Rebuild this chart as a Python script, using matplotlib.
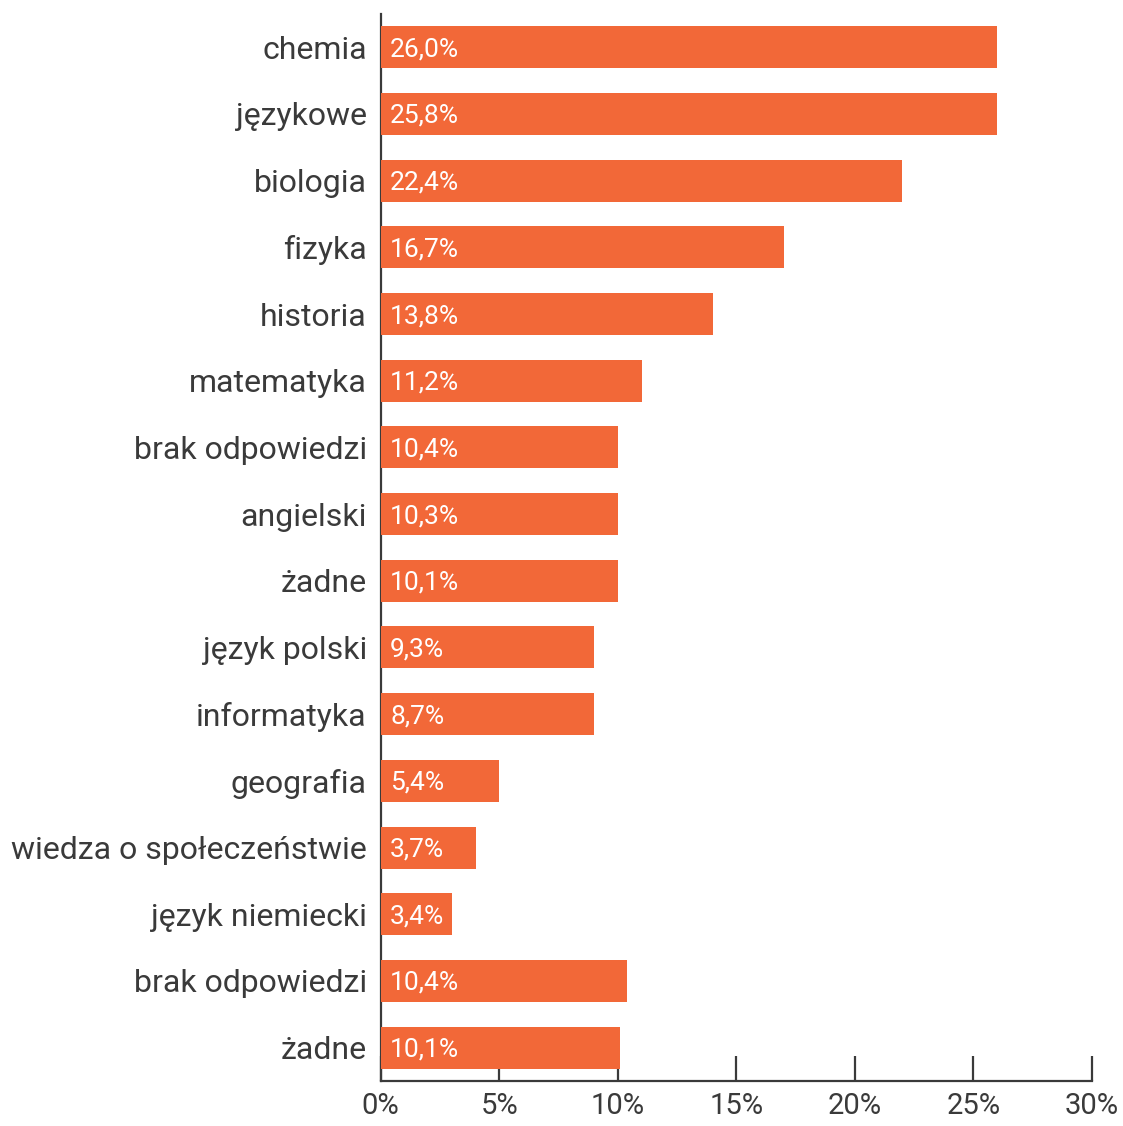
import matplotlib.pyplot as plt

# categories top -> bottom
categories = ['chemia', 'językowe', 'biologia', 'fizyka', 'historia', 'matematyka',
              'brak odpowiedzi', 'angielski', 'żadne', 'język polski', 'informatyka',
              'geografia', 'wiedza o społeczeństwie', 'język niemiecki',
              'brak odpowiedzi', 'żadne']
# printed labels
value_labels = ['26,0%', '25,8%', '22,4%', '16,7%', '13,8%', '11,2%', '10,4%', '10,3%',
                '10,1%', '9,3%', '8,7%', '5,4%', '3,7%', '3,4%', '10,4%', '10,1%']
# bar lengths as drawn in the picture (%)
bar_lengths = [26, 26, 22, 17, 14, 11, 10, 10, 10, 9, 9, 5, 4, 3, 10.4, 10.1]
x_ticks = [0, 5, 10, 15, 20, 25, 30]

bar_color = '#F26838'
text_color = '#3a3a3a'
plt.rcParams['font.family'] = ['Roboto', 'DejaVu Sans']

fig = plt.figure(figsize=(11.23, 11.26), dpi=100)
ax = fig.add_axes([0.339, 0.04, 0.6334, 0.9476])

pos = list(range(len(categories)))
ax.barh(pos, bar_lengths, height=0.63, color=bar_color, zorder=3)
for p, lab in zip(pos, value_labels):
    ax.text(0.4, p + 0.03, lab, color='white', fontsize=19, va='center', ha='left', zorder=4)

ax.set_ylim(15.5, -0.5)
ax.set_xlim(0, 30)
ax.set_yticks(pos)
ax.set_yticklabels(categories, fontsize=23, color=text_color)
ax.set_xticks(x_ticks)
ax.set_xticklabels([f'{t}%' for t in x_ticks], fontsize=21, color=text_color)

for s in ['top', 'right']:
    ax.spines[s].set_visible(False)
for s in ['left', 'bottom']:
    ax.spines[s].set_color(text_color)
    ax.spines[s].set_linewidth(1.6)
ax.tick_params(axis='y', length=0, pad=10)
ax.tick_params(axis='x', direction='in', length=18, width=1.6, color=text_color, pad=8)

fig.savefig('out.png', dpi=100)
